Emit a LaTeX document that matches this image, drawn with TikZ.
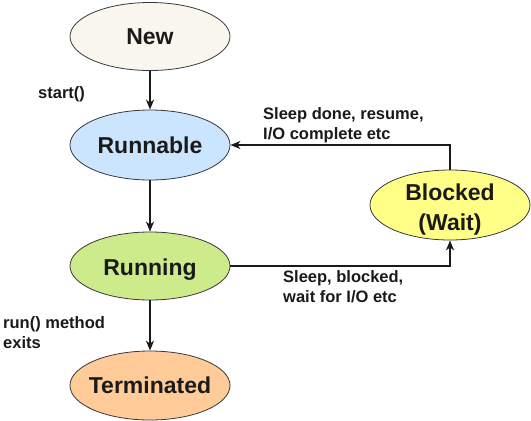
\documentclass[tikz,border=0pt]{standalone}
\usepackage{fontspec}
\setmainfont{Liberation Sans}
\usetikzlibrary{shapes.geometric,arrows.meta}
\definecolor{cNew}{HTML}{F9F7ED}
\definecolor{cRunnable}{HTML}{CCE5FF}
\definecolor{cRunning}{HTML}{CDEB8B}
\definecolor{cTerm}{HTML}{FFCC99}
\definecolor{cBlocked}{HTML}{FFFF88}
\definecolor{cStroke}{HTML}{36393D}
\definecolor{cText}{HTML}{1A1A1A}
\newcommand{\lowered}[2]{\raisebox{-#1}[0pt][0pt]{#2}}
\tikzset{
  state/.style={ellipse, draw=cStroke, line width=0.8pt, minimum width=160pt, minimum height=68pt, inner xsep=-40pt, inner ysep=-30pt, text=cText, font=\fontsize{23}{30}\selectfont\bfseries, align=center},
  lbl/.style={anchor=west, align=left, inner sep=0pt, text=cText, font=\fontsize{16.5}{20}\selectfont\bfseries},
  conn/.style={draw=cText, line width=1.3pt, -{Stealth[length=10pt,width=8pt,inset=3pt]}}
}
\begin{document}
\begin{tikzpicture}[x=1pt,y=-1pt]
\useasboundingbox (0,0) rectangle (531,421);
\fill[white] (0,0) rectangle (531,421);
\node[state, fill=cNew] (new) at (150,36.5) {New};
\node[state, fill=cRunnable, minimum height=70pt] (runnable) at (150,145) {Runnable};
\node[state, fill=cRunning] (running) at (150,266) {\lowered{9pt}{Running}};
\node[state, fill=cTerm, minimum height=69pt] (term) at (150,385.5) {Terminated};
\node[state, fill=cBlocked, minimum height=70pt] (blocked) at (450,205) {\lowered{10pt}{Blocked}\\\lowered{10pt}{(Wait)}};
\coordinate (c1) at (450,145);
\coordinate (c2) at (450,266);
\draw[conn] (new) -- (runnable);
\draw[conn] (runnable) -- (running);
\draw[conn] (running) -- (term);
\draw[conn] (blocked.north) -- (c1) -- (runnable.east);
\draw[conn] (running.east) -- (c2) -- (blocked.south);
\node[lbl] (l1) at (38,94) {start()};
\node[lbl] (l2) at (263,125) {Sleep done, resume,\\I/O complete etc};
\node[lbl] (l3) at (283,287) {Sleep, blocked,\\wait for I/O etc};
\node[lbl] (l4) at (3,333) {run() method\\exits};
\end{tikzpicture}
\end{document}
